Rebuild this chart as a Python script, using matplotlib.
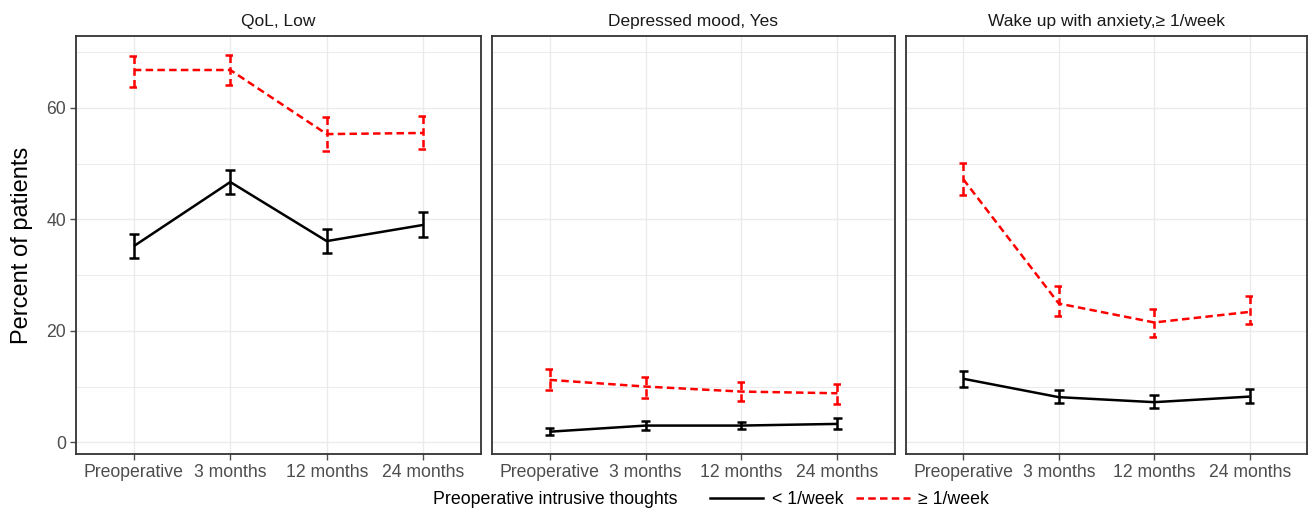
import matplotlib
matplotlib.use("Agg")
import matplotlib.pyplot as plt
from matplotlib.lines import Line2D
import numpy as np

plt.rcParams['font.family'] = ['Liberation Sans', 'DejaVu Sans']

timepoints = ["Preoperative", "3 months", "12 months", "24 months"]
panels = ["QoL, Low", "Depressed mood, Yes", "Wake up with anxiety,\u2265 1/week"]
groups = ["< 1/week", "\u2265 1/week"]
legend_title = "Preoperative intrusive thoughts"

# percent of patients, per panel, group "< 1/week"
low_mean = [
    [35.2, 46.7, 36.1, 39.0],
    [1.9, 3.0, 3.0, 3.3],
    [11.4, 8.1, 7.2, 8.2],
]
low_lo = [
    [33.1, 44.6, 34.0, 36.8],
    [1.3, 2.2, 2.3, 2.4],
    [10.0, 7.0, 6.1, 7.0],
]
low_hi = [
    [37.3, 48.8, 38.2, 41.3],
    [2.6, 3.9, 3.7, 4.4],
    [12.8, 9.4, 8.4, 9.5],
]
# group ">= 1/week"
high_mean = [
    [66.8, 66.8, 55.3, 55.5],
    [11.2, 10.0, 9.1, 8.8],
    [47.2, 24.9, 21.5, 23.4],
]
high_lo = [
    [63.8, 64.1, 52.3, 52.6],
    [9.3, 8.0, 7.4, 6.9],
    [44.4, 22.7, 18.9, 21.2],
]
high_hi = [
    [69.4, 69.5, 58.3, 58.5],
    [13.1, 11.7, 10.9, 10.4],
    [50.2, 28.0, 23.9, 26.2],
]

W, H = 1309, 513
fig = plt.figure(figsize=(W / 100, H / 100), dpi=100)

lefts = [76, 492, 906]
rights = [481, 895, 1307]
top, bottom = 36, 454

grid_col = "#EBEBEB"
frame_col = "#333333"
tick_col = "#4D4D4D"
red = "#FF0000"
cap = 0.05
lw = 1.8
dash = (3.0, 1.7)


def draw_errbars(ax, x, lo, hi, color, dashed):
    xs, ys = [], []
    for xi, l, h in zip(x, lo, hi):
        xs += [xi - cap, xi + cap, np.nan, xi, xi, np.nan, xi - cap, xi + cap, np.nan]
        ys += [h, h, np.nan, h, l, np.nan, l, l, np.nan]
    line, = ax.plot(xs, ys, color=color, lw=lw, solid_capstyle='butt')
    if dashed:
        line.set_dashes(dash)


axes = []
for i in range(3):
    ax = fig.add_axes([lefts[i] / W, (H - bottom) / H,
                       (rights[i] - lefts[i]) / W, (bottom - top) / H])
    axes.append(ax)
    x = np.arange(1, len(timepoints) + 1)
    ax.set_xlim(0.4, 4.6)
    ax.set_ylim(-2.1, 72.9)
    ax.set_xticks(x)
    ax.set_xticklabels(timepoints)
    ax.set_yticks([0, 20, 40, 60])
    ax.set_yticks([10, 30, 50, 70], minor=True)
    ax.grid(True, which='major', color=grid_col, lw=1.0)
    ax.grid(True, which='minor', axis='y', color=grid_col, lw=0.7)
    ax.set_axisbelow(True)
    ax.tick_params(which='minor', length=0)
    ax.tick_params(which='major', length=4, width=1, color=tick_col,
                   labelcolor=tick_col, labelsize=12.7, pad=3)
    if i > 0:
        ax.tick_params(axis='y', labelleft=False, length=0)
    for s in ax.spines.values():
        s.set_color(frame_col)
        s.set_linewidth(1.3)
    ax.set_title(panels[i], fontsize=12.5, color="#1A1A1A", pad=7)

    ax.plot(x, low_mean[i], color='black', lw=lw, solid_capstyle='butt')
    draw_errbars(ax, x, low_lo[i], low_hi[i], 'black', False)
    l, = ax.plot(x, high_mean[i], color=red, lw=lw)
    l.set_dashes(dash)
    draw_errbars(ax, x, high_lo[i], high_hi[i], red, True)

fig.text(22 / W, (H - (top + bottom) / 2) / H, "Percent of patients",
         rotation=90, ha='center', va='center', fontsize=17, color='black')

fig.text(433 / W, 1 - 500 / H, legend_title, ha='left', va='center',
         fontsize=12.8, color='black')
h1 = Line2D([], [], color='black', lw=lw)
h2 = Line2D([], [], color=red, lw=lw)
h2.set_dashes(dash)
fig.legend([h1, h2], groups, loc='center left',
           bbox_to_anchor=(710 / W, 1 - 500 / H), ncol=2, frameon=False,
           fontsize=12.8, handlelength=3.0, handletextpad=0.5,
           columnspacing=0.7, borderpad=0, borderaxespad=0)

fig.savefig("out.png", dpi=100)
